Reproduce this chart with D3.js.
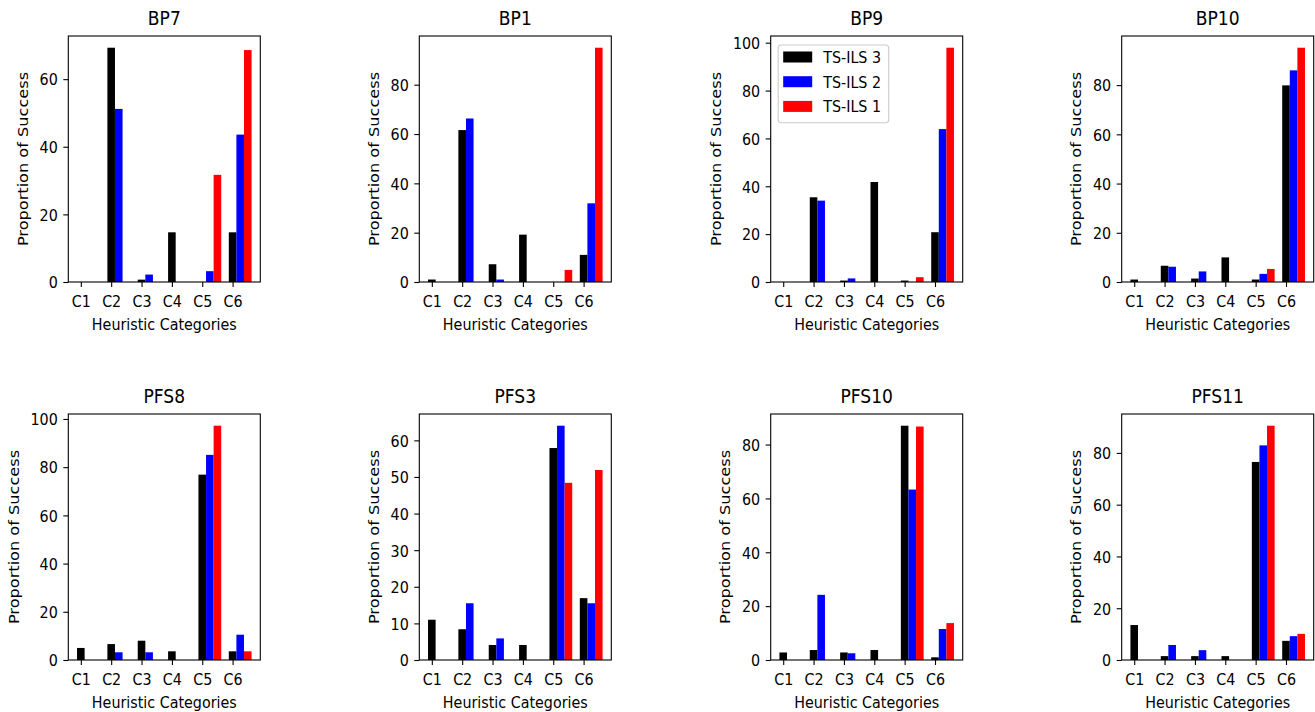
<!DOCTYPE html>
<html>
<head>
<meta charset="utf-8">
<script src="https://cdn.jsdelivr.net/npm/d3@7"></script>
<style>
  html, body { margin: 0; padding: 0; background: #fff; }
  svg { display: block; }
  text { font-family: "DejaVu Sans", sans-serif; fill: #000; }
</style>
</head>
<body>
<svg id="chart" width="1315" height="712"></svg>
<script>
// ---- data ----
const panelTitles = ["BP7", "BP1", "BP9", "BP10", "PFS8", "PFS3", "PFS10", "PFS11"];
const categories = ["C1", "C2", "C3", "C4", "C5", "C6"];
const seriesNames = ["TS-ILS 3", "TS-ILS 2", "TS-ILS 1"];
const seriesColors = ["#000000", "#0000ff", "#ff0000"];

// values per panel (same order as panelTitles), one value per category
const tsils3 = [
  [0, 69.3, 0.7, 14.7, 0, 14.7],
  [1.0, 61.6, 7.2, 19.2, 0, 11.0],
  [0, 35.4, 0.6, 41.8, 0.6, 20.8],
  [1.0, 6.6, 1.4, 10.0, 1.0, 79.9],
  [5.0, 6.6, 8.0, 3.6, 76.9, 3.6],
  [11.0, 8.4, 4.1, 4.1, 57.9, 16.9],
  [2.8, 3.7, 2.8, 3.7, 87.0, 1.0],
  [13.5, 1.5, 1.5, 1.5, 76.5, 7.4]
];
const tsils2 = [
  [0, 51.2, 2.2, 0, 3.2, 43.6],
  [0, 66.3, 1.0, 0, 0, 31.9],
  [0, 34.0, 1.5, 0, 0, 63.9],
  [0, 6.2, 4.3, 0, 3.3, 86.0],
  [0, 3.2, 3.2, 0, 85.1, 10.5],
  [0, 15.5, 5.9, 0, 64.0, 15.5],
  [0, 24.2, 2.5, 0, 63.3, 11.5],
  [0, 5.8, 3.8, 0, 82.9, 9.2]
];
const tsils1 = [
  [0, 0, 0, 0, 31.7, 68.6],
  [0, 0, 0, 0, 4.9, 95.0],
  [0, 0, 0, 0, 2.0, 97.9],
  [0, 0, 0, 0, 5.3, 95.2],
  [0, 0, 0, 0, 97.2, 3.6],
  [0, 0, 0, 0, 48.4, 51.9],
  [0, 0, 0, 0, 86.7, 13.7],
  [0, 0, 0, 0, 90.5, 10.1]
];
const yTickValues = [
  [0, 20, 40, 60],
  [0, 20, 40, 60, 80],
  [0, 20, 40, 60, 80, 100],
  [0, 20, 40, 60, 80],
  [0, 20, 40, 60, 80, 100],
  [0, 10, 20, 30, 40, 50, 60],
  [0, 20, 40, 60, 80],
  [0, 20, 40, 60, 80]
];
const xLabel = "Heuristic Categories";
const yLabel = "Proportion of Success";
const legendPanel = 2;

// ---- layout ----
const svg = d3.select("#chart");
const axLefts = [68.3, 419.3, 770.7, 1121.7];
const axTops = [36, 414];
const axW = 192, axH = 246;
const barW = 0.25;
const seriesData = [tsils3, tsils2, tsils1];
const fs = 14.3;      // horizontal font size
const fsTitle = 17.1;
const K = 1.13;       // vertical stretch of glyphs

function addText(g, x, y, str, size, anchor) {
  return g.append("text")
    .attr("transform", `translate(${x},${y}) scale(1,${K})`)
    .attr("font-size", size).attr("text-anchor", anchor).text(str);
}

panelTitles.forEach((title, p) => {
  const col = p % 4, row = Math.floor(p / 4);
  const g = svg.append("g").attr("transform", `translate(${axLefts[col]},${axTops[row]})`);

  const allVals = seriesData.flatMap(s => s[p]);
  const vmax = d3.max(allVals);
  const y = d3.scaleLinear().domain([0, vmax * 1.05]).range([axH, 0]);
  const lo = -barW / 2, hi = (categories.length - 1) + 2 * barW + barW / 2;
  const m = (hi - lo) * 0.05;
  const x = d3.scaleLinear().domain([lo - m, hi + m]).range([0, axW]);

  // bars
  seriesData.forEach((s, si) => {
    g.append("g").selectAll("rect").data(s[p]).join("rect")
      .attr("x", (d, i) => x(i + si * barW - barW / 2))
      .attr("width", x(barW) - x(0))
      .attr("y", d => y(d))
      .attr("height", d => axH - y(d))
      .attr("fill", seriesColors[si]);
  });

  // y axis
  const yAxis = d3.axisLeft(y).tickValues(yTickValues[p]).tickSize(5).tickPadding(5).tickFormat(d3.format("d"));
  const ya = g.append("g").call(yAxis);
  ya.select(".domain").remove();
  ya.selectAll(".tick line").attr("stroke", "#000").attr("stroke-width", 1.1);
  ya.selectAll(".tick text")
    .attr("x", null).attr("dy", "0.36em")
    .attr("transform", `translate(-10.5,0) scale(1,${K})`)
    .attr("font-size", fs).attr("font-family", "DejaVu Sans").attr("fill", "#000");

  // x axis
  const xAxis = d3.axisBottom(x).tickValues(d3.range(categories.length)).tickSize(5).tickPadding(5)
    .tickFormat(i => categories[i]);
  const xa = g.append("g").attr("transform", `translate(0,${axH})`).call(xAxis);
  xa.select(".domain").remove();
  xa.selectAll(".tick line").attr("stroke", "#000").attr("stroke-width", 1.1);
  xa.selectAll(".tick text")
    .attr("y", null).attr("dy", null)
    .attr("transform", `translate(0,24.8) scale(1,${K})`)
    .attr("font-size", fs).attr("font-family", "DejaVu Sans").attr("fill", "#000");

  // frame
  g.append("rect").attr("x", 0).attr("y", 0).attr("width", axW).attr("height", axH)
    .attr("fill", "none").attr("stroke", "#000").attr("stroke-width", 1.1);

  // title
  addText(g, axW / 2, -11, title, fsTitle, "middle");

  // x label
  addText(g, axW / 2, axH + 47.5, xLabel, fs, "middle");

  // y label
  let maxW = 0;
  ya.selectAll(".tick text").each(function () { maxW = Math.max(maxW, this.getBBox().width); });
  const lx = -(10.5 + maxW + 12);
  g.append("text").attr("transform", `translate(${lx},${axH / 2}) rotate(-90) scale(${K},1)`)
    .attr("text-anchor", "middle").attr("font-size", fs).text(yLabel);

  // legend
  if (p === legendPanel) {
    const lg = g.append("g").attr("transform", "translate(7.5,9)");
    lg.append("rect").attr("x", 0).attr("y", 0).attr("width", 110.5).attr("height", 77.7)
      .attr("rx", 3).attr("fill", "#fff").attr("fill-opacity", 0.8)
      .attr("stroke", "#cccccc").attr("stroke-width", 1.1);
    seriesNames.forEach((name, si) => {
      const cy = 12 + si * 24.7;
      lg.append("rect").attr("x", 5).attr("y", cy - 5.5).attr("width", 29).attr("height", 11)
        .attr("fill", seriesColors[si]);
      lg.append("text")
        .attr("transform", `translate(45,${cy}) scale(1,${K})`)
        .attr("dy", "0.36em").attr("font-size", fs).text(name);
    });
  }
});
</script>
</body>
</html>
